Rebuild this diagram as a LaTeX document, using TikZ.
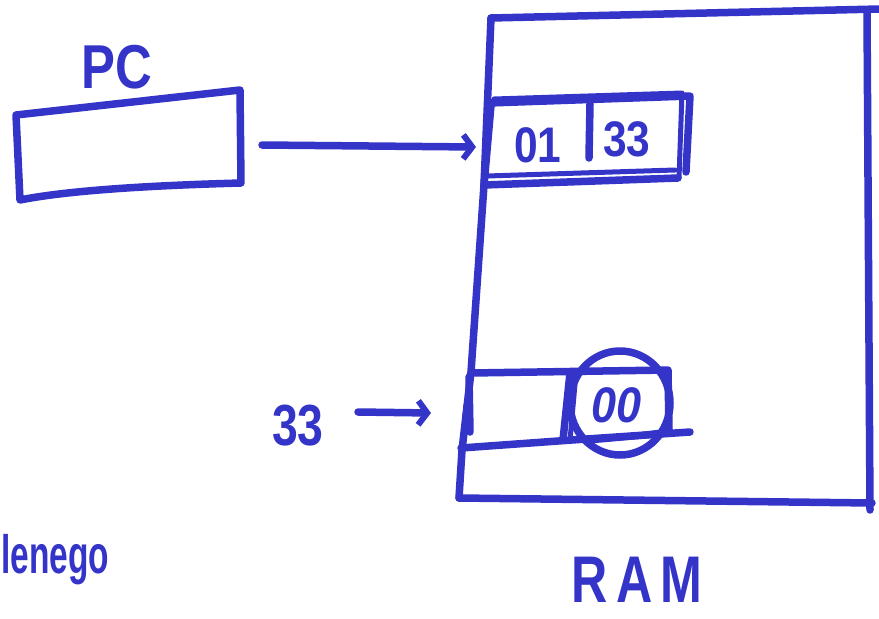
\documentclass[tikz,border=0pt]{standalone}
\usepackage{fontspec}
\setmainfont{Liberation Sans}
\usetikzlibrary{arrows.meta}
\definecolor{ink}{RGB}{52,52,200}
\begin{document}
\begin{tikzpicture}[x=1pt,y=-1pt,
  pen/.style={draw=ink,line width=7.5pt,line cap=round,line join=round},
  thinpen/.style={draw=ink,line width=5pt,line cap=round,line join=round},
  lbl/.style={text=ink,inner sep=0pt,anchor=center,font=\bfseries},
  barb/.style={-{Straight Barb[length=9pt,width=24pt,line width=6pt]}}]
\useasboundingbox (0,0) rectangle (879,619);

% ---- PC register ----
\coordinate (pcNW) at (16,115);
\coordinate (pcNE) at (240,90);
\coordinate (pcSE) at (241,183);
\coordinate (pcSW) at (20,200);
\draw[pen] (pcNW) -- (pcNE) -- (pcSE) .. controls (130,186) and (60,192) .. (pcSW) -- cycle;
\node[lbl] (pclabel) at (117,67) {\fontsize{62}{62}\selectfont\scalebox{0.82}[1]{PC}};
\coordinate (pcout) at (262,145);

% ---- RAM outline ----
\coordinate (ramNW) at (491,18);
\coordinate (ramNE) at (879,9);
\coordinate (ramE) at (867,12);
\coordinate (ramSE) at (870,510);
\coordinate (ramSW) at (459,498);
\draw[pen] (ramNW) -- (ramNE);
\draw[pen] (ramE) -- (ramSE);
\draw[pen] (ramSW) -- (872,503);
\draw[pen] (ramNW) -- (484,185) -- (471,372) -- (462,450) -- (ramSW);
\node[lbl] (ramlabel) at (637,580) {\fontsize{66}{66}\selectfont\scalebox{0.76}[1]{R\,A\,M}};

% ---- upper memory cell ----
\coordinate (c1W) at (476,147);
\draw[pen] (489,103) -- (690,96) -- (686,172);
\draw[thinpen] (494,99) -- (682,93) -- (679,178);
\draw[pen] (484,185) -- (678,178);
\draw[thinpen] (487,176) -- (675,170);
\draw[pen] (491,105) -- (484,185);
\draw[pen] (590,104) -- (589,158);
\node[lbl] (op) at (538,145) {\fontsize{50}{50}\selectfont\scalebox{0.85}[1]{01}};
\node[lbl] (arg) at (627,139) {\fontsize{50}{50}\selectfont\scalebox{0.85}[1]{33}};

% PC points at the upper cell
\draw[pen,barb] (pcout) -- (c1W);

% ---- lower memory cell (address 33) ----
\coordinate (c2W) at (431,413);
\draw[pen] (471,373) -- (668,370) -- (669,432);
\draw[pen] (461,448) -- (572,440) -- (690,432);
\draw[pen] (469,377) -- (470,432);
\draw[thinpen] (466,405) -- (463,440);
\draw[pen] (570,373) -- (563,440);
\draw[thinpen] (576,373) -- (570,440);
\fill[ink] (578,440) -- (672,428) -- (674,436) -- (585,444) -- cycle;
\node[lbl] (val) at (617,405) {\fontsize{50}{50}\selectfont\scalebox{0.9}[1]{\itshape 00}};
\draw[pen] (620,403) ellipse [x radius=50pt, y radius=52pt];

\node[lbl] (addr) at (298,426) {\fontsize{58}{58}\selectfont\scalebox{0.8}[1]{33}};
\coordinate (addrout) at (358,412);
\draw[pen,barb] (addrout) -- (c2W);

% ---- register label ----
\node[lbl,anchor=west] (reg) at (1,560) {\fontsize{54}{54}\selectfont\scalebox{0.62}[1]{lenego}};
\end{tikzpicture}
\end{document}
